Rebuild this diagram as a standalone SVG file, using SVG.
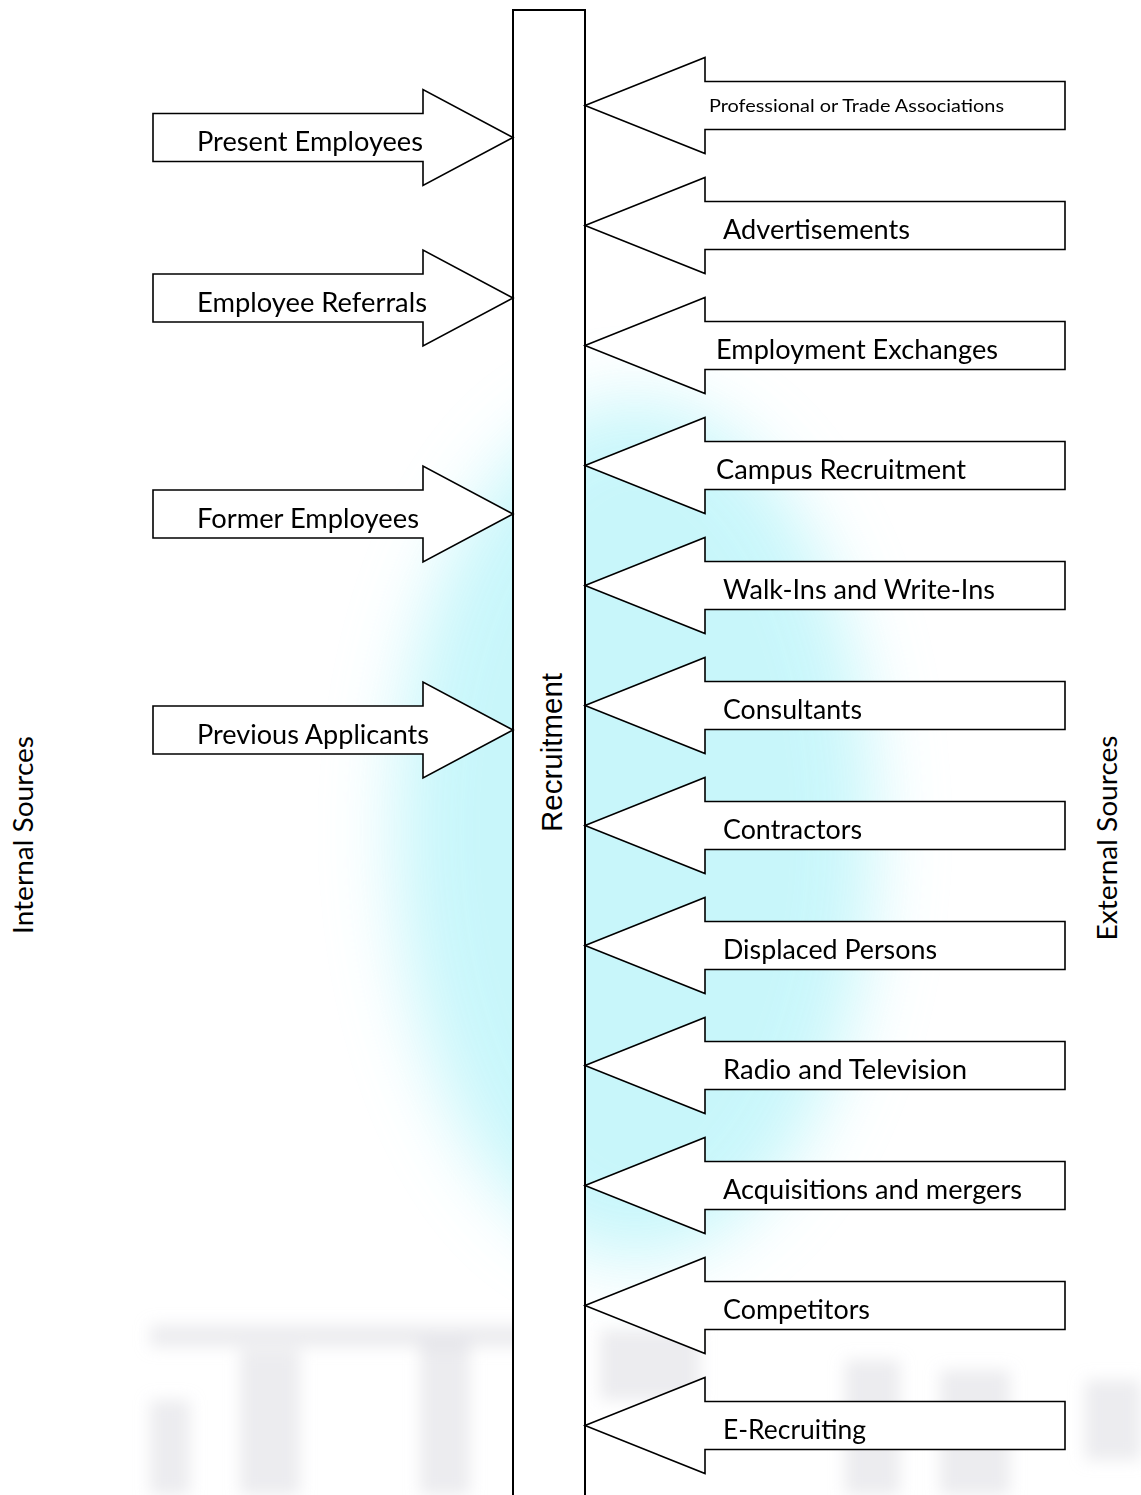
<svg xmlns="http://www.w3.org/2000/svg" width="1141" height="1495" viewBox="0 0 1141 1495">
  <defs>
    <filter id="blurBig" x="-50%" y="-50%" width="200%" height="200%">
      <feGaussianBlur stdDeviation="35"/>
    </filter>
    <filter id="blurSmall" x="-50%" y="-50%" width="200%" height="200%">
      <feGaussianBlur stdDeviation="8"/>
    </filter>
    <style>
      .arrow { fill: #ffffff; stroke: #000000; stroke-width: 1.6; stroke-linejoin: miter; }
      .bar { fill: #ffffff; stroke: #000000; stroke-width: 2; }
      .lbl { font-family: Lato, "Open Sans", "Liberation Sans", sans-serif; font-size: 27px; fill: #000000; }
      .small { font-size: 17px; }
      .side { font-family: Lato, "Open Sans", "Liberation Sans", sans-serif; font-size: 27px; fill: #000000; text-anchor: middle; }
      .title { font-family: "Liberation Sans", Arial, sans-serif; font-size: 29.5px; fill: #000000; text-anchor: middle; }
      .wm { fill: #d4d4dc; opacity: 0.45; }
    </style>
  </defs>

  <rect x="0" y="0" width="1141" height="1495" fill="#ffffff"/>

  <!-- faint watermark background -->
  <g id="watermark">
    <ellipse cx="635" cy="830" rx="240" ry="430" fill="#bff5fa" opacity="0.85" filter="url(#blurBig)"/>
    <g filter="url(#blurSmall)">
      <rect class="wm" x="150" y="1325" width="380" height="22"/>
      <rect class="wm" x="240" y="1350" width="60" height="145"/>
      <rect class="wm" x="150" y="1400" width="40" height="95"/>
      <rect class="wm" x="420" y="1340" width="50" height="155"/>
      <rect class="wm" x="600" y="1330" width="100" height="70"/>
      <rect class="wm" x="845" y="1360" width="55" height="135"/>
      <rect class="wm" x="940" y="1370" width="70" height="125"/>
      <rect class="wm" x="1085" y="1380" width="56" height="80"/>
    </g>
  </g>

  <!-- central node -->
  <g id="recruitment">
    <rect class="bar" x="513" y="10" width="72" height="1500"/>
    <text class="title" transform="translate(562,752.5) rotate(-90)">Recruitment</text>
  </g>

  <!-- side labels -->
  <g id="internal-sources">
    <text class="side" transform="translate(33,835) rotate(-90)" textLength="198" lengthAdjust="spacingAndGlyphs">Internal Sources</text>
  </g>
  <g id="external-sources">
    <text class="side" transform="translate(1117,838) rotate(-90)" textLength="205" lengthAdjust="spacingAndGlyphs">External Sources</text>
  </g>

  <!-- internal source arrows (pointing right) -->
  <g id="present-employees">
    <path class="arrow" d="M153,113.5 H423 V89.5 L513,137.5 L423,185.5 V161.5 H153 Z"/>
    <text class="lbl" x="197" y="151" textLength="226" lengthAdjust="spacingAndGlyphs">Present Employees</text>
  </g>
  <g id="employee-referrals">
    <path class="arrow" d="M153,274 H423 V250 L513,298 L423,346 V322 H153 Z"/>
    <text class="lbl" x="197" y="311.5" textLength="230" lengthAdjust="spacingAndGlyphs">Employee Referrals</text>
  </g>
  <g id="former-employees">
    <path class="arrow" d="M153,490 H423 V466 L513,514 L423,562 V538 H153 Z"/>
    <text class="lbl" x="197" y="527.5" textLength="222" lengthAdjust="spacingAndGlyphs">Former Employees</text>
  </g>
  <g id="previous-applicants">
    <path class="arrow" d="M153,706 H423 V682 L513,730 L423,778 V754 H153 Z"/>
    <text class="lbl" x="197" y="743.5" textLength="232" lengthAdjust="spacingAndGlyphs">Previous Applicants</text>
  </g>

  <!-- external source arrows (pointing left) -->
  <g id="professional-associations">
    <path class="arrow" d="M585,105.5 L705,57.5 V81.5 H1065 V129.5 H705 V153.5 Z"/>
    <text class="lbl small" x="709" y="112" textLength="295" lengthAdjust="spacingAndGlyphs">Professional or Trade Associations</text>
  </g>
  <g id="advertisements">
    <path class="arrow" d="M585,225.5 L705,177.5 V201.5 H1065 V249.5 H705 V273.5 Z"/>
    <text class="lbl" x="723" y="238.5" textLength="187" lengthAdjust="spacingAndGlyphs">Advertisements</text>
  </g>
  <g id="employment-exchanges">
    <path class="arrow" d="M585,345.5 L705,297.5 V321.5 H1065 V369.5 H705 V393.5 Z"/>
    <text class="lbl" x="716" y="358.5" textLength="282" lengthAdjust="spacingAndGlyphs">Employment Exchanges</text>
  </g>
  <g id="campus-recruitment">
    <path class="arrow" d="M585,465.5 L705,417.5 V441.5 H1065 V489.5 H705 V513.5 Z"/>
    <text class="lbl" x="716" y="478.5" textLength="250" lengthAdjust="spacingAndGlyphs">Campus Recruitment</text>
  </g>
  <g id="walk-ins">
    <path class="arrow" d="M585,585.5 L705,537.5 V561.5 H1065 V609.5 H705 V633.5 Z"/>
    <text class="lbl" x="723" y="598.5" textLength="272" lengthAdjust="spacingAndGlyphs">Walk-Ins and Write-Ins</text>
  </g>
  <g id="consultants">
    <path class="arrow" d="M585,705.5 L705,657.5 V681.5 H1065 V729.5 H705 V753.5 Z"/>
    <text class="lbl" x="723" y="718.5" textLength="139" lengthAdjust="spacingAndGlyphs">Consultants</text>
  </g>
  <g id="contractors">
    <path class="arrow" d="M585,825.5 L705,777.5 V801.5 H1065 V849.5 H705 V873.5 Z"/>
    <text class="lbl" x="723" y="838.5" textLength="139" lengthAdjust="spacingAndGlyphs">Contractors</text>
  </g>
  <g id="displaced-persons">
    <path class="arrow" d="M585,945.5 L705,897.5 V921.5 H1065 V969.5 H705 V993.5 Z"/>
    <text class="lbl" x="723" y="958.5" textLength="214" lengthAdjust="spacingAndGlyphs">Displaced Persons</text>
  </g>
  <g id="radio-television">
    <path class="arrow" d="M585,1065.5 L705,1017.5 V1041.5 H1065 V1089.5 H705 V1113.5 Z"/>
    <text class="lbl" x="723" y="1078.5" textLength="244" lengthAdjust="spacingAndGlyphs">Radio and Television</text>
  </g>
  <g id="acquisitions-mergers">
    <path class="arrow" d="M585,1185.5 L705,1137.5 V1161.5 H1065 V1209.5 H705 V1233.5 Z"/>
    <text class="lbl" x="723" y="1198.5" textLength="299" lengthAdjust="spacingAndGlyphs">Acquisitions and mergers</text>
  </g>
  <g id="competitors">
    <path class="arrow" d="M585,1305.5 L705,1257.5 V1281.5 H1065 V1329.5 H705 V1353.5 Z"/>
    <text class="lbl" x="723" y="1318.5" textLength="147" lengthAdjust="spacingAndGlyphs">Competitors</text>
  </g>
  <g id="e-recruiting">
    <path class="arrow" d="M585,1425.5 L705,1377.5 V1401.5 H1065 V1449.5 H705 V1473.5 Z"/>
    <text class="lbl" x="723" y="1438.5" textLength="143" lengthAdjust="spacingAndGlyphs">E-Recruiting</text>
  </g>

  <g id="connectors"></g>
</svg>
